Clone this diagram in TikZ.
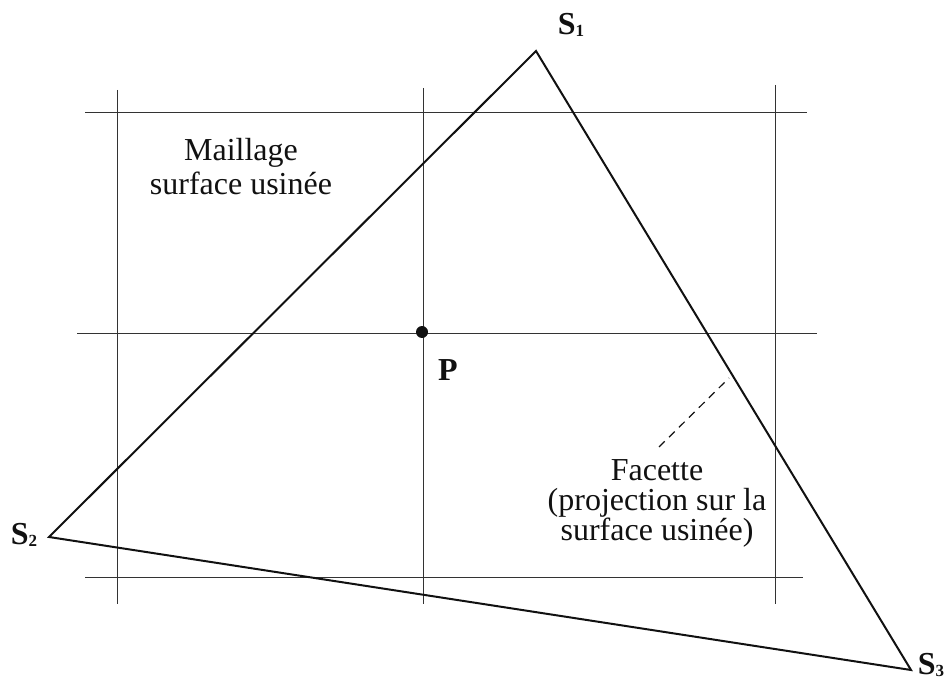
\documentclass[tikz,border=0pt]{standalone}
\usepackage{fontspec}
\setmainfont{Liberation Serif}
\usetikzlibrary{positioning, calc}
\definecolor{ink}{HTML}{111111}
\definecolor{gridink}{HTML}{333333}
\tikzset{
  x=0.5pt, y=-0.5pt,
  gridline/.style={draw=gridink, line width=0.5pt},
  edge/.style={draw=ink, line width=1pt, line join=miter},
  lead/.style={draw=ink, line width=0.6pt, dash pattern=on 4pt off 3pt},
  vlab/.style={font=\fontsize{16}{16}\selectfont\bfseries, text=ink, inner sep=0pt},
  note/.style={font=\fontsize{16}{#1}\selectfont, text=ink, align=center, inner sep=0pt},
  note/.default=17pt
}
\newcommand{\vsub}[1]{\raisebox{-1pt}{\fontsize{8.5}{8.5}\selectfont #1}}

\begin{document}
\begin{tikzpicture}
  \useasboundingbox (0,0) rectangle (947,679);
  % maillage
  \foreach \yy/\xa/\xb in {113/85/807, 333/77/817, 577/85/803}
    \draw[gridline] (\xa,\yy) -- (\xb,\yy);
  \foreach \xx/\ya/\yb in {117/90/604, 423/88/604, 775/85/604}
    \draw[gridline] (\xx,\ya) -- (\xx,\yb);

  % facette
  \coordinate (s1) at (536,51);
  \coordinate (s2) at (49,537);
  \coordinate (s3) at (911,670);
  \draw[edge] (s1) -- (s2) -- (s3) -- cycle;

  \node[vlab] (s1lab) at (571,25) {S\vsub{1}};
  \node[vlab] (s2lab) at (24,535) {S\vsub{2}};
  \node[vlab] (s3lab) at (931,665) {S\vsub{3}};

  \coordinate (p) at (422,332);
  \fill[ink] (p) circle (6);
  \node[vlab] (plab) at (448,370) {P};

  \node[note=17pt] (mesh) at (241,167) {Maillage\\surface usinée};
  \node[note=15pt] (facet) at (657,503)
    {Facette\\(projection sur la\\surface usinée)};
  \coordinate (ftip) at (729,378);
  \coordinate (fbase) at (659,447);
  \draw[lead] (fbase) -- (ftip);
\end{tikzpicture}
\end{document}
